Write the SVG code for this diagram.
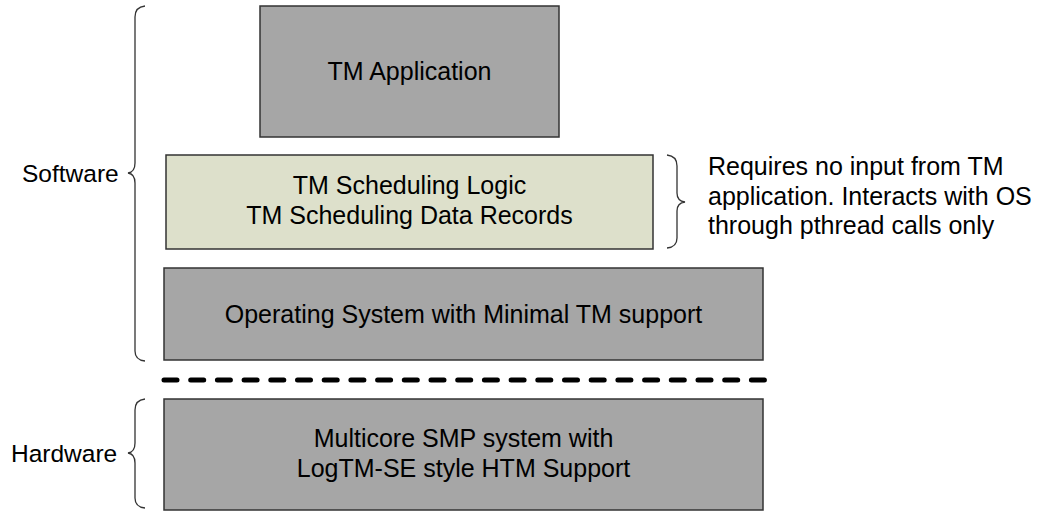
<svg xmlns="http://www.w3.org/2000/svg" width="1037" height="512" viewBox="0 0 1037 512">
<style>
.box{fill:#A6A6A6;stroke:#333;stroke-width:1.5}
.sched{fill:#DDE0CB;stroke:#333;stroke-width:1.5}
.t{font-family:"Liberation Sans",Arial,sans-serif;font-size:25px;fill:#000;text-anchor:middle}
.l{font-family:"Liberation Sans",Arial,sans-serif;font-size:24.5px;fill:#000}
.brace{fill:none;stroke:#333;stroke-width:1.3}
</style>
<rect width="1037" height="512" fill="#fff"/>
<g id="app"><rect class="box" x="260" y="6" width="299" height="131"/><text class="t" x="409.5" y="80">TM Application</text></g>
<g id="sched"><rect class="sched" x="166" y="155" width="487" height="94"/><text class="t" x="409.5" y="194">TM Scheduling Logic</text><text class="t" x="409.5" y="224">TM Scheduling Data Records</text></g>
<g id="os"><rect class="box" x="164" y="268" width="599" height="92"/><text class="t" x="463.5" y="323">Operating System with Minimal TM support</text></g>
<g id="hw"><rect class="box" x="164" y="399" width="599" height="111"/><text class="t" x="463.5" y="447">Multicore SMP system with</text><text class="t" x="463.5" y="477">LogTM-SE style HTM Support</text></g>
<g id="software"><path class="brace" d="M145,6 Q135,7 135,17 L135,163 Q135,172 128,173 Q135,174 135,183 L135,351 Q135,360 145,361"/><text class="l" x="22" y="182">Software</text></g>
<g id="hardware"><path class="brace" d="M145,399 Q135,400 135,410 L135,443 Q135,452 128,453 Q135,454 135,463 L135,498 Q135,507 145,508"/><text class="l" x="11" y="462">Hardware</text></g>
<g id="note"><path class="brace" d="M667,155 Q677,156 677,166 L677,193 Q677,201 685,202 Q677,203 677,211 L677,238 Q677,247 667,248"/><text class="l" x="708" y="175" style="font-size:25px">Requires no input from TM</text><text class="l" x="708" y="205" style="font-size:25px">application. Interacts with OS</text><text class="l" x="708" y="234" style="font-size:25px">through pthread calls only</text></g>
<g id="connectors"><line x1="164" y1="380" x2="765" y2="380" stroke="#000" stroke-width="5" stroke-linecap="round" stroke-dasharray="13 13.7"/></g>
</svg>
